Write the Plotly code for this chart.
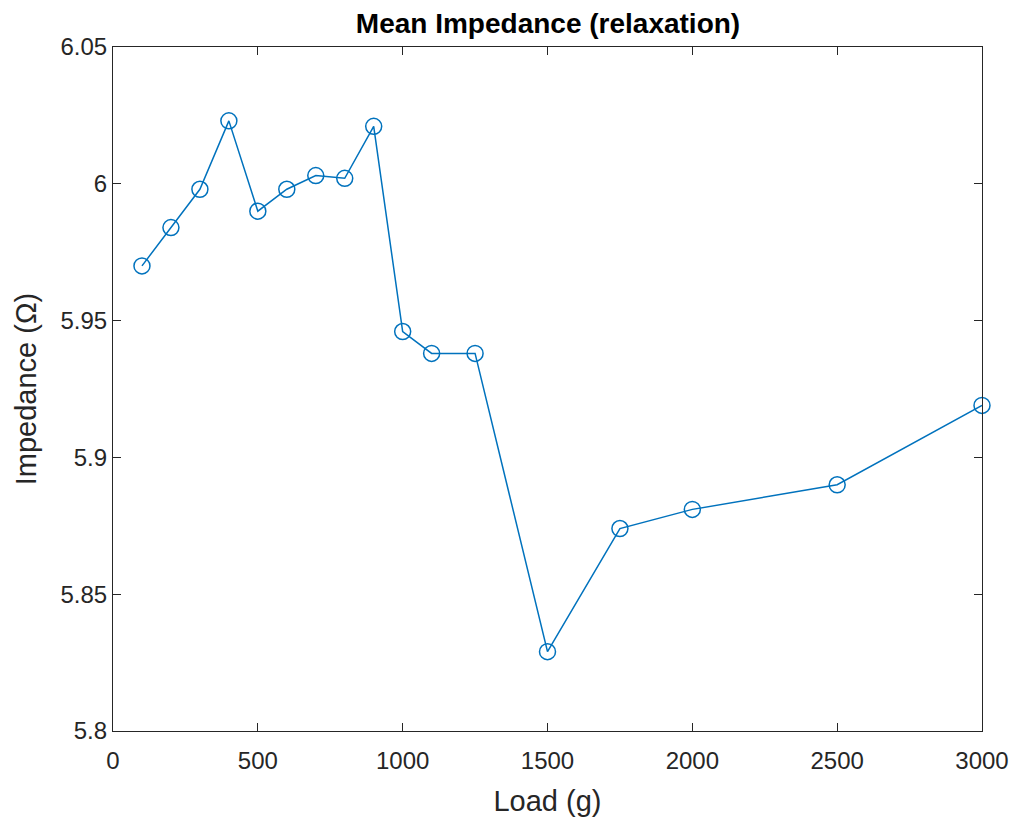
import plotly.graph_objects as go

LINE_BLUE = "#0072BD"
AXIS_GRAY = "#262626"

load_g = [100, 200, 300, 400, 500, 600, 700, 800, 900, 1000, 1100, 1250, 1500, 1750, 2000, 2500, 3000]
impedance = [5.970, 5.984, 5.998, 6.023, 5.990, 5.998, 6.003, 6.002, 6.021, 5.946, 5.938, 5.938,
             5.829, 5.874, 5.881, 5.890, 5.919]

x_ticks = [0, 500, 1000, 1500, 2000, 2500, 3000]
y_ticks = [5.8, 5.85, 5.9, 5.95, 6.0, 6.05]
y_tick_text = ["5.8", "5.85", "5.9", "5.95", "6", "6.05"]

fig = go.Figure()
fig.add_trace(go.Scatter(
    x=load_g, y=impedance, mode="lines+markers",
    line=dict(color=LINE_BLUE, width=1.5),
    marker=dict(symbol="circle-open", size=16, color=LINE_BLUE, line=dict(width=1.5, color=LINE_BLUE)),
    showlegend=False, cliponaxis=False,
))

axis_common = dict(
    showgrid=False, zeroline=False, showline=True, mirror="ticks", automargin=False,
    linecolor=AXIS_GRAY, linewidth=1.2, ticks="inside", ticklen=8, tickcolor=AXIS_GRAY,
    tickfont=dict(size=24, color=AXIS_GRAY),
)
fig.update_xaxes(range=[0, 3000], tickvals=x_ticks, ticklabelstandoff=8,
                 title=dict(text="Load (g)", font=dict(size=29, color=AXIS_GRAY), standoff=17),
                 **axis_common)
fig.update_yaxes(range=[5.8, 6.05], tickvals=y_ticks, ticktext=y_tick_text,
                 title=dict(text="Impedance (Ω)", font=dict(size=29, color=AXIS_GRAY), standoff=15),
                 **axis_common)

fig.update_layout(
    width=1015, height=818,
    title=dict(text="<b>Mean Impedance (relaxation)</b>", font=dict(size=28, color="#000000"),
               x=548 / 1015, xanchor="center", y=1 - 23 / 818, yanchor="middle"),
    font=dict(family="Liberation Sans, Arial, sans-serif"),
    paper_bgcolor="white", plot_bgcolor="white",
    margin=dict(l=113, r=33, t=47, b=87),
)

# drop the page's default 8px body margin so the figure fills the window
fig.write_html("out.html", config={"displayModeBar": False},
               post_script="document.body.style.margin='0';")
